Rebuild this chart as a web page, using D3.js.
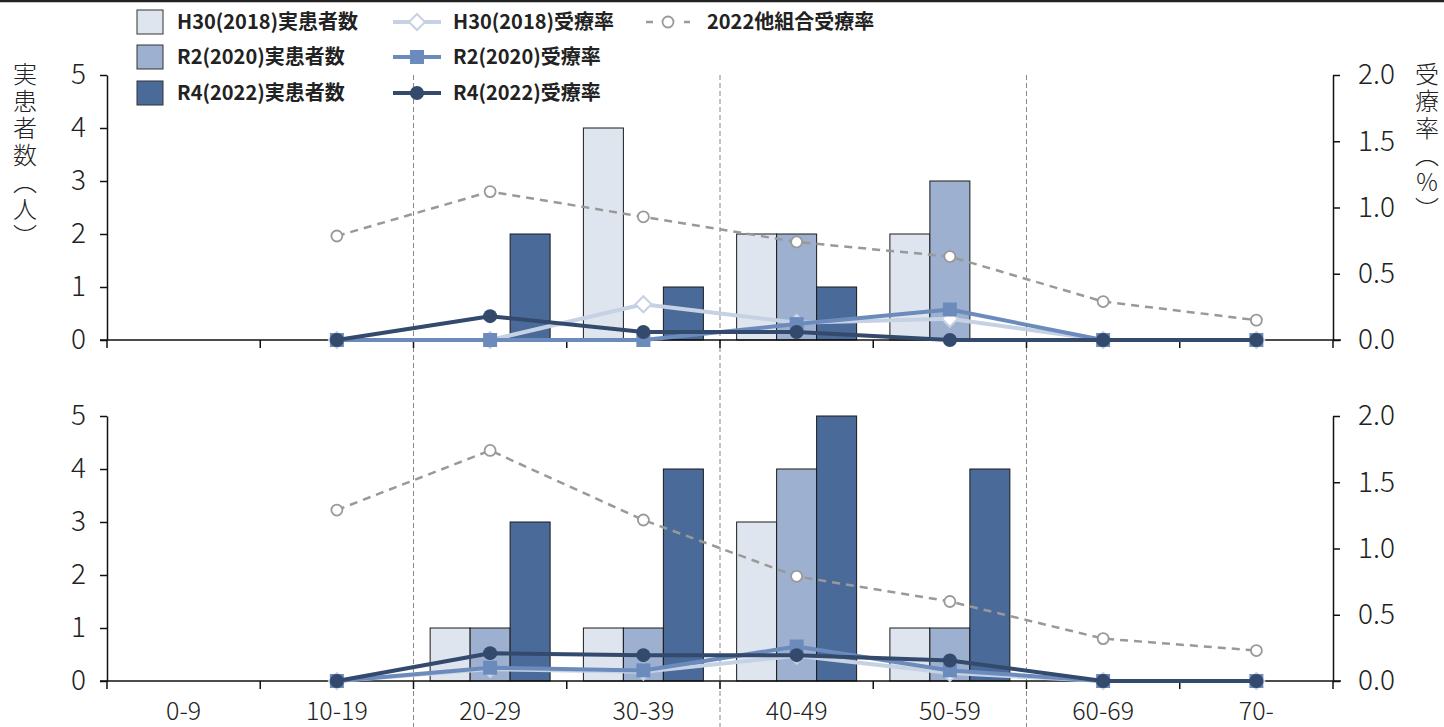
<!DOCTYPE html>
<html><head><meta charset="utf-8">
<script src="https://cdn.jsdelivr.net/npm/d3@7"></script>
<style>
body{margin:0;background:#fff;}
text{font-family:"Noto Sans CJK JP","Noto Sans",sans-serif;}
</style></head>
<body><svg id="c" width="1444" height="727"></svg>
<script>
const categories = ["0-9","10-19","20-29","30-39","40-49","50-59","60-69","70-"];
const barSeries = ["H30(2018)実患者数","R2(2020)実患者数","R4(2022)実患者数"];
const lineSeries = ["H30(2018)受療率","R2(2020)受療率","R4(2022)受療率","2022他組合受療率"];
const leftTicks = [0,1,2,3,4,5];
const rightTicks = [0,0.5,1.0,1.5,2.0];

// Top panel
const topH30Count = [0,0,0,4,2,2,0,0];
const topR2Count  = [0,0,0,0,2,3,0,0];
const topR4Count  = [0,0,2,1,1,0,0,0];
const topH30Rate  = [null,0,0,0.27,0.13,0.16,0,0];
const topR2Rate   = [null,0,0,0,0.12,0.23,0,0];
const topR4Rate   = [null,0,0.18,0.06,0.06,0,0,0];
const topOtherRate= [null,0.785,1.12,0.93,0.74,0.63,0.29,0.15];

// Bottom panel
const botH30Count = [0,0,1,1,3,1,0,0];
const botR2Count  = [0,0,1,1,4,1,0,0];
const botR4Count  = [0,0,3,4,5,4,0,0];
const botH30Rate  = [null,0,0.09,0.07,0.19,0.06,0,0];
const botR2Rate   = [null,0,0.10,0.08,0.26,0.08,0,0];
const botR4Rate   = [null,0,0.21,0.195,0.195,0.155,0,0];
const botOtherRate= [null,1.29,1.74,1.215,0.79,0.60,0.32,0.23];

const barFill = ["#dfe5ef","#9db0cf","#4a6b9a"];
const lineColor = ["#c6d2e4","#6b8bbd","#344a6c","#999999"];

const svg = d3.select("#c");
svg.append("line").attr("x1",0).attr("x2",1444).attr("y1",1).attr("y2",1).attr("stroke","#222").attr("stroke-width",2.5);

const left = 107, right = 1333;
const x = d3.scaleBand().domain(categories).range([left,right]).paddingInner(0).paddingOuter(0);
const xs = d3.scaleBand().domain(barSeries).range([0,x.bandwidth()]).paddingInner(0).paddingOuter(0.416);

// dashed separators
[2,4,6].forEach(i=>{
  const xx = x(categories[i]);
  svg.append("line").attr("x1",xx).attr("x2",xx).attr("y1",75).attr("y2",727)
    .attr("stroke","#888").attr("stroke-width",1).attr("stroke-dasharray","5,3");
});

function panel(top, bottom, counts, rates, showX){
  const yL = d3.scaleLinear().domain([0,5]).range([bottom,top]);
  const yR = d3.scaleLinear().domain([0,2]).range([bottom,top]);
  const g = svg.append("g");
  counts.forEach((arr,si)=>{
    g.selectAll(null).data(arr.map((v,i)=>({v,c:categories[i]})).filter(d=>d.v>0)).enter()
      .append("rect")
      .attr("x",d=>x(d.c)+xs(barSeries[si]))
      .attr("width",xs.bandwidth())
      .attr("y",d=>yL(d.v)).attr("height",d=>yL(0)-yL(d.v))
      .attr("fill",barFill[si]).attr("stroke","#1a1a1a").attr("stroke-width",1);
  });
  const ax = g.append("g").attr("transform",`translate(0,${bottom})`)
    .call(d3.axisBottom(x).tickSize(0).tickPadding(0).tickFormat(showX? d=>d : ()=>""));
  ax.select(".domain").attr("stroke","#111").attr("stroke-width",1.5).attr("d",`M${left-7},0H${right+8}`);
  ax.selectAll("text").attr("font-size",25).attr("fill","#222").attr("dy",0).attr("y",39).attr("font-weight",300);
  g.selectAll(null).data(d3.range(categories.length+1)).enter().append("line")
    .attr("x1",i=>left+i*x.step()).attr("x2",i=>left+i*x.step())
    .attr("y1",bottom).attr("y2",bottom+8).attr("stroke","#111").attr("stroke-width",1.5);
  const ayl = g.append("g").attr("transform",`translate(${left},0)`)
    .call(d3.axisLeft(yL).tickValues(leftTicks).tickSize(7).tickSizeOuter(0).tickPadding(14).tickFormat(d3.format("d")));
  ayl.select(".domain").attr("stroke","#111").attr("stroke-width",1.5);
  ayl.selectAll("line").attr("stroke","#111").attr("stroke-width",1.5);
  ayl.selectAll("text").attr("font-size",28).attr("fill","#222").attr("font-weight",300);
  const ayr = g.append("g").attr("transform",`translate(${right},0)`)
    .call(d3.axisRight(yR).tickValues(rightTicks).tickSize(7).tickSizeOuter(0).tickPadding(18).tickFormat(d3.format(".1f")));
  ayr.select(".domain").attr("stroke","#111").attr("stroke-width",1.5);
  ayr.selectAll("line").attr("stroke","#111").attr("stroke-width",1.5);
  ayr.selectAll("text").attr("font-size",28).attr("fill","#222").attr("font-weight",300);

  const cx = c=>x(c)+x.bandwidth()/2;
  const order = [3,0,1,2];
  order.forEach(si=>{
    const data = rates[si].map((v,i)=>({v,c:categories[i]})).filter(d=>d.v!==null);
    const line = d3.line().x(d=>cx(d.c)).y(d=>yR(d.v));
    const path = g.append("path").datum(data).attr("d",line).attr("fill","none")
      .attr("stroke",lineColor[si]);
    if(si===3){ path.attr("stroke-width",2.5).attr("stroke-dasharray","8,6"); }
    else path.attr("stroke-width",4).attr("stroke-linejoin","round");
    data.forEach(d=>marker(g,cx(d.c),yR(d.v),si));
  });
}

function marker(g, px, py, si){
  if(si===3){
    g.append("circle").attr("cx",px).attr("cy",py).attr("r",5.5).attr("fill","#fff").attr("stroke","#999").attr("stroke-width",1.8);
  } else if(si===0){
    g.append("path").attr("d",`M${px},${py-8}L${px+8},${py}L${px},${py+8}L${px-8},${py}Z`)
      .attr("fill","#fff").attr("stroke",lineColor[0]).attr("stroke-width",2);
  } else if(si===1){
    g.append("rect").attr("x",px-7).attr("y",py-7).attr("width",14).attr("height",14).attr("fill",lineColor[1]);
  } else {
    g.append("circle").attr("cx",px).attr("cy",py).attr("r",7).attr("fill",lineColor[2]);
  }
}

panel(75, 340, [topH30Count,topR2Count,topR4Count], [topH30Rate,topR2Rate,topR4Rate,topOtherRate], false);
panel(416, 681, [botH30Count,botR2Count,botR4Count], [botH30Rate,botR2Rate,botR4Rate,botOtherRate], true);

svg.append("text").attr("x",25).attr("y",62).text("実患者数（人）")
  .style("writing-mode","vertical-rl").attr("font-size",24).attr("fill","#222").attr("font-weight",300).attr("letter-spacing",3);
svg.append("text").attr("x",1427).attr("y",62).text("受療率（％）")
  .style("writing-mode","vertical-rl").attr("font-size",24).attr("fill","#222").attr("font-weight",300).attr("letter-spacing",3);

const lg = svg.append("g");
const rowY = [22,57,93];
const lfs = 20;
barSeries.forEach((s,i)=>{
  lg.append("rect").attr("x",137).attr("y",rowY[i]-12).attr("width",26).attr("height",24)
    .attr("fill",barFill[i]).attr("stroke","#333").attr("stroke-width",1);
  lg.append("text").attr("x",177).attr("y",rowY[i]).attr("dy","0.36em").text(s)
    .attr("font-size",lfs).attr("font-weight",700).attr("fill","#222");
});
lineSeries.slice(0,3).forEach((s,i)=>{
  lg.append("line").attr("x1",393).attr("x2",441).attr("y1",rowY[i]).attr("y2",rowY[i])
    .attr("stroke",lineColor[i]).attr("stroke-width",4);
  marker(lg,417,rowY[i],i);
  lg.append("text").attr("x",453).attr("y",rowY[i]).attr("dy","0.36em").text(s)
    .attr("font-size",lfs).attr("font-weight",700).attr("fill","#222");
});
lg.append("line").attr("x1",646).attr("x2",690).attr("y1",rowY[0]).attr("y2",rowY[0])
  .attr("stroke",lineColor[3]).attr("stroke-width",2.5).attr("stroke-dasharray","7,12");
marker(lg,668,rowY[0],3);
lg.append("text").attr("x",707).attr("y",rowY[0]).attr("dy","0.36em").text(lineSeries[3])
  .attr("font-size",lfs).attr("font-weight",700).attr("fill","#222");
</script></body></html>
